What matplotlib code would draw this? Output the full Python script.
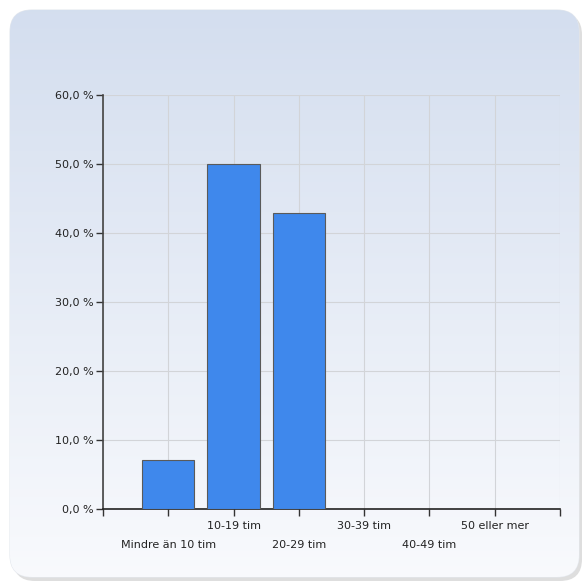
import matplotlib.pyplot as plt
import numpy as np
from matplotlib.patches import FancyBboxPatch

categories = ["Mindre än 10 tim", "10-19 tim", "20-29 tim", "30-39 tim", "40-49 tim", "50 eller mer"]
percent = [7.1, 50.0, 42.9, 0.0, 0.0, 0.0]
y_ticks = [0, 10, 20, 30, 40, 50, 60]

W, H = 587, 583
fig = plt.figure(figsize=(W / 100, H / 100), dpi=100)
fig.patch.set_facecolor("white")

# rounded panel with vertical gradient
bg = fig.add_axes([0, 0, 1, 1])
bg.set_xlim(0, W)
bg.set_ylim(H, 0)
bg.axis("off")
shadow = FancyBboxPatch((13, 13), 569, 568, boxstyle="round,pad=0,rounding_size=22",
                        facecolor="#c8c8c8", edgecolor="none", alpha=0.6)
bg.add_patch(shadow)
panel = FancyBboxPatch((10, 10), 569, 567, boxstyle="round,pad=0,rounding_size=22",
                       facecolor="none", edgecolor="#e4e8ee", linewidth=0.8)
bg.add_patch(panel)
top = np.array([0.831, 0.871, 0.937])
bottom = np.array([0.975, 0.980, 0.992])
t = np.linspace(0, 1, 256)[:, None]
grad = top + (bottom - top) * t
grad = np.repeat(grad[:, None, :], 2, axis=1)
im = bg.imshow(grad, extent=[10, 579, 577, 10], aspect="auto", zorder=1)
im.set_clip_path(panel)

ax = fig.add_axes([103 / W, 1 - 509 / H, (560 - 103) / W, (509 - 95) / H])
ax.set_facecolor("none")
x = np.arange(1, len(categories) + 1)
ax.bar(x, percent, width=0.8, color="#3f88ec", edgecolor="#5a5a5a", linewidth=0.8, zorder=3)

ax.set_xlim(0, 7)
ax.set_ylim(0, 60)
ax.set_yticks(y_ticks)
ax.set_yticklabels([f"{v:.1f} %".replace(".", ",") for v in y_ticks], fontsize=8, color="#222222")
ax.set_xticks(list(range(0, 8)))
ax.set_xticklabels([])
# staggered category labels
for i, lab in enumerate(categories):
    dy = -17 if i % 2 == 1 else -36
    ax.annotate(lab, xy=(x[i], 0), xytext=(0, dy), textcoords="offset pixels",
                ha="center", va="center", fontsize=8, color="#222222", annotation_clip=False)

ax.grid(True, color="#d2d4d8", linewidth=0.8, zorder=0)
ax.set_axisbelow(True)
for side in ["top", "right"]:
    ax.spines[side].set_visible(False)
ax.spines["left"].set_color("#444444")
ax.spines["bottom"].set_color("#222222")
ax.spines["left"].set_linewidth(1.2)
ax.spines["bottom"].set_linewidth(1.2)
ax.tick_params(axis="both", length=5, width=1, color="#333333", pad=2)

fig.savefig("out.png", dpi=100)
